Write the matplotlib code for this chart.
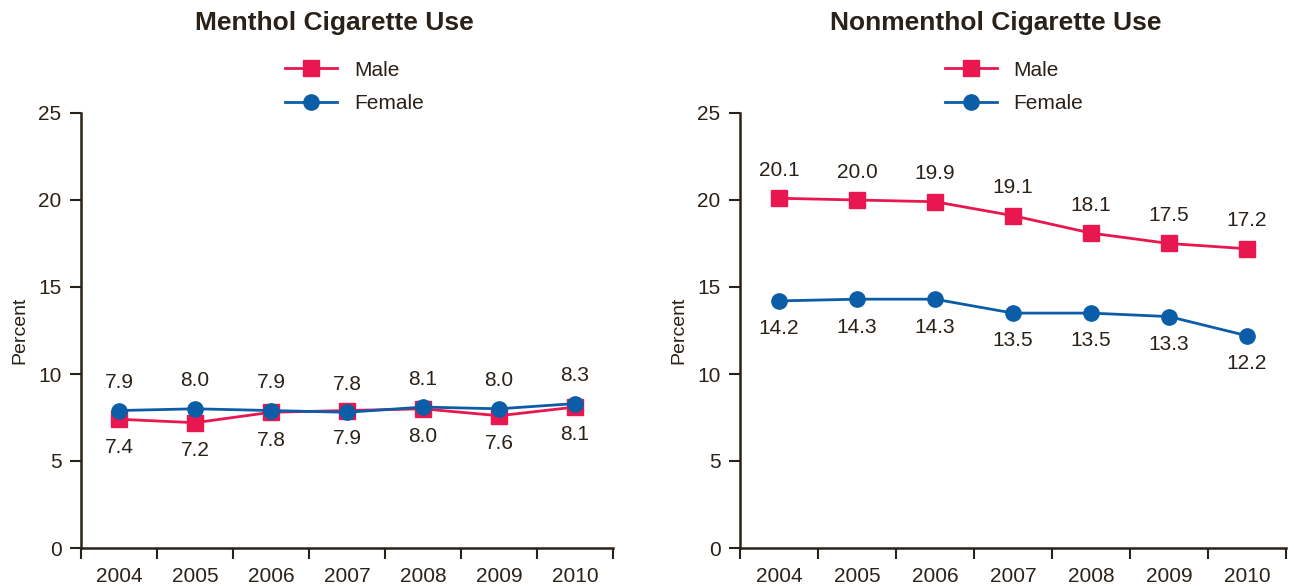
import numpy as np
import matplotlib
matplotlib.use("Agg")
import matplotlib.pyplot as plt

plt.rcParams['font.family'] = ['Liberation Sans', 'DejaVu Sans']

years = ['2004', '2005', '2006', '2007', '2008', '2009', '2010']
y_ticks = [0, 5, 10, 15, 20, 25]

# Menthol cigarette use (%)
menthol_male = [7.4, 7.2, 7.8, 7.9, 8.0, 7.6, 8.1]
menthol_female = [7.9, 8.0, 7.9, 7.8, 8.1, 8.0, 8.3]

# Nonmenthol cigarette use (%)
nonmenthol_male = [20.1, 20.0, 19.9, 19.1, 18.1, 17.5, 17.2]
nonmenthol_female = [14.2, 14.3, 14.3, 13.5, 13.5, 13.3, 12.2]

RED = '#E8174F'
BLUE = '#0B5DA8'
INK = '#2A2118'
FS = 15


def draw_panel(ax, title, male, female, male_above, leg_x, title_x):
    x = np.arange(len(years))
    ax.plot(x, male, color=RED, lw=2, marker='s', ms=11, label='Male', zorder=3)
    ax.plot(x, female, color=BLUE, lw=2, marker='o', ms=11, label='Female', zorder=4)

    # value labels, one series above, the other below
    for xi, m, f in zip(x, male, female):
        off_m = 1.6 if male_above else -1.6
        ax.text(xi, m + off_m, f'{m:.1f}', ha='center', va='center', fontsize=FS, color=INK)
        ax.text(xi, f - off_m, f'{f:.1f}', ha='center', va='center', fontsize=FS, color=INK)

    ax.set_xlim(-0.5, len(years) - 0.5)
    ax.set_ylim(0, 25)
    ax.set_yticks(y_ticks)
    ax.set_yticklabels([str(t) for t in y_ticks], fontsize=FS, color=INK)
    ax.set_xticks(np.arange(-0.5, len(years)), labels=[''] * (len(years) + 1))
    ax.set_xticks(x, labels=years, minor=True)
    ax.tick_params(axis='x', which='major', length=8, width=1.5, color=INK, direction='out')
    ax.tick_params(axis='x', which='minor', length=0, pad=14, labelsize=FS, labelcolor=INK)
    ax.tick_params(axis='y', length=8, width=1.5, color=INK, pad=6)

    for side in ['top', 'right']:
        ax.spines[side].set_visible(False)
    for side in ['left', 'bottom']:
        ax.spines[side].set_color(INK)
        ax.spines[side].set_linewidth(1.8)

    ax.set_ylabel('Percent', fontsize=FS - 1, color=INK, labelpad=7)
    ax.set_title(title, fontsize=19, fontweight='bold', color=INK, pad=60, x=title_x)

    ax.legend(loc='center left', bbox_to_anchor=(leg_x, 1.06), frameon=False,
              fontsize=FS, handlelength=2.5, handletextpad=0.8, labelspacing=0.7,
              borderpad=0, borderaxespad=0, labelcolor=INK)


fig = plt.figure(figsize=(12.94, 5.88), dpi=100)
ax1 = fig.add_axes([81 / 1294, 1 - 548 / 588, 532 / 1294, 435 / 588])
ax2 = fig.add_axes([740 / 1294, 1 - 548 / 588, 546 / 1294, 435 / 588])

draw_panel(ax1, 'Menthol Cigarette Use', menthol_male, menthol_female, False, 204 / 532, 0.476)
draw_panel(ax2, 'Nonmenthol Cigarette Use', nonmenthol_male, nonmenthol_female, True, 205 / 546, 0.469)

fig.savefig('out.png', dpi=100)
